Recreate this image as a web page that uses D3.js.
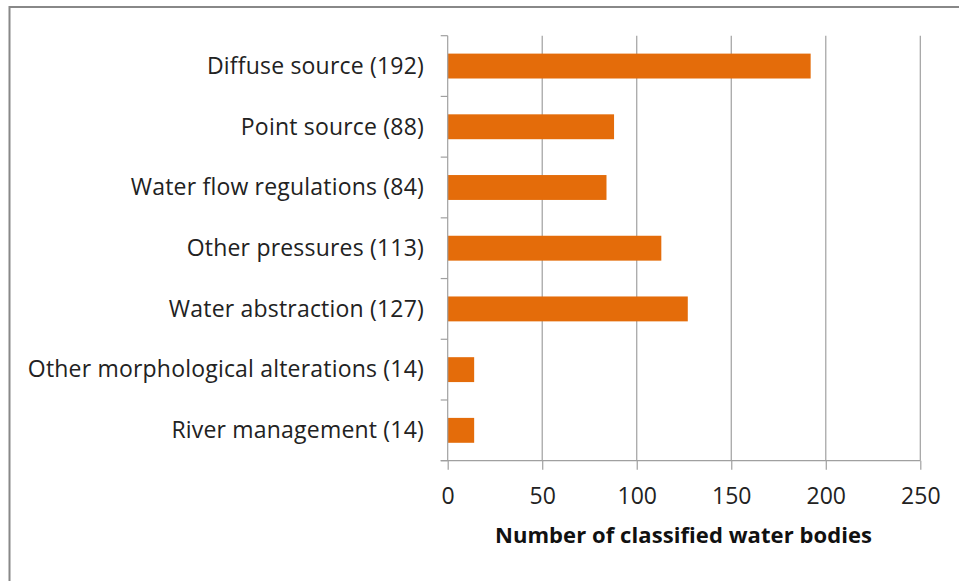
<!DOCTYPE html>
<html>
<head>
<meta charset="utf-8">
<script src="https://cdn.jsdelivr.net/npm/d3@7/dist/d3.min.js"></script>
<style>
  html, body { margin: 0; padding: 0; background: #fff; }
  svg { display: block; }
</style>
</head>
<body>
<svg id="chart" width="959" height="581"></svg>
<script>
// Pressures on classified water bodies
const categories = [
  "Diffuse source (192)",
  "Point source (88)",
  "Water flow regulations (84)",
  "Other pressures (113)",
  "Water abstraction (127)",
  "Other morphological alterations (14)",
  "River management (14)"
];
const counts = [192, 88, 84, 113, 127, 14, 14];
const xTicks = [0, 50, 100, 150, 200, 250];
const xTitle = "Number of classified water bodies";

const svg = d3.select("#chart");
const font = "'Open Sans', Lato, sans-serif";

// outer frame (top and left edges visible, right/bottom run off the page)
svg.append("rect")
  .attr("x", 9.5).attr("y", 7)
  .attr("width", 1000).attr("height", 700)
  .attr("fill", "none")
  .attr("stroke", "#888")
  .attr("stroke-width", 2);

const plotLeft = 447.7, plotRight = 920.3, plotTop = 35.7, plotBottom = 460.7;

const x = d3.scaleLinear().domain([0, 250]).range([plotLeft, plotRight]);
const y = d3.scaleBand().domain(categories).range([plotTop, plotBottom]).paddingInner(0.59).paddingOuter(0.295);

// vertical gridlines
svg.append("g")
  .selectAll("line")
  .data(xTicks.slice(1))
  .join("line")
  .attr("x1", d => x(d)).attr("x2", d => x(d))
  .attr("y1", plotTop).attr("y2", plotBottom)
  .attr("stroke", "#a0a0a0")
  .attr("stroke-width", 1.2);

// bars
const data = categories.map((c, i) => ({ c, v: counts[i] }));
svg.append("g")
  .selectAll("rect")
  .data(data)
  .join("rect")
  .attr("x", x(0))
  .attr("y", d => y(d.c))
  .attr("width", d => x(d.v) - x(0))
  .attr("height", y.bandwidth())
  .attr("fill", "#E46C0A");

// x axis
const xAxis = d3.axisBottom(x).tickValues(xTicks).tickSize(9).tickSizeOuter(0);
const gx = svg.append("g")
  .attr("transform", `translate(0,${plotBottom})`)
  .call(xAxis);
gx.select(".domain").attr("stroke", "#a0a0a0").attr("stroke-width", 1.2)
  .attr("d", `M${plotLeft - 7},0H${plotRight}`);
gx.selectAll(".tick line").attr("stroke", "#a0a0a0").attr("stroke-width", 1.2);
gx.selectAll(".tick text")
  .attr("y", 43.3)
  .attr("dy", null)
  .attr("fill", "#222")
  .style("font-family", font)
  .style("font-size", "23px");

// y axis: ticks at category boundaries
const boundaries = d3.range(categories.length + 1).map(i => plotTop + i * (plotBottom - plotTop) / categories.length);
svg.append("line")
  .attr("x1", plotLeft).attr("x2", plotLeft)
  .attr("y1", plotTop).attr("y2", plotBottom)
  .attr("stroke", "#a0a0a0").attr("stroke-width", 1.2);
svg.append("g")
  .selectAll("line")
  .data(boundaries)
  .join("line")
  .attr("x1", plotLeft - 7).attr("x2", plotLeft)
  .attr("y1", d => d).attr("y2", d => d)
  .attr("stroke", "#a0a0a0").attr("stroke-width", 1.2);

// category labels
const labels = svg.append("g")
  .selectAll("text")
  .data(categories)
  .join("text")
  .attr("x", 424)
  .attr("y", d => y(d) + y.bandwidth() / 2 + 7.8)
  .attr("text-anchor", "end")
  .attr("fill", "#222")
  .style("font-family", font)
  .style("font-size", "23px")
  .text(d => d);

// tighten tracking so the longest label spans 396px
const longest = labels.filter(d => d === categories[5]).node();
const lw = longest.getComputedTextLength();
const ls = (396 - lw) / (categories[5].length - 1);
labels.style("letter-spacing", ls + "px");

// axis title
const title = svg.append("text")
  .attr("x", 683.5)
  .attr("y", 543.3)
  .attr("text-anchor", "middle")
  .attr("fill", "#111")
  .style("font-family", font)
  .style("font-size", "22px")
  .style("font-weight", "bold")
  .text(xTitle);
const tw = title.node().getComputedTextLength();
title.style("letter-spacing", ((377 - tw) / (xTitle.length - 1)) + "px");
</script>
</body>
</html>
